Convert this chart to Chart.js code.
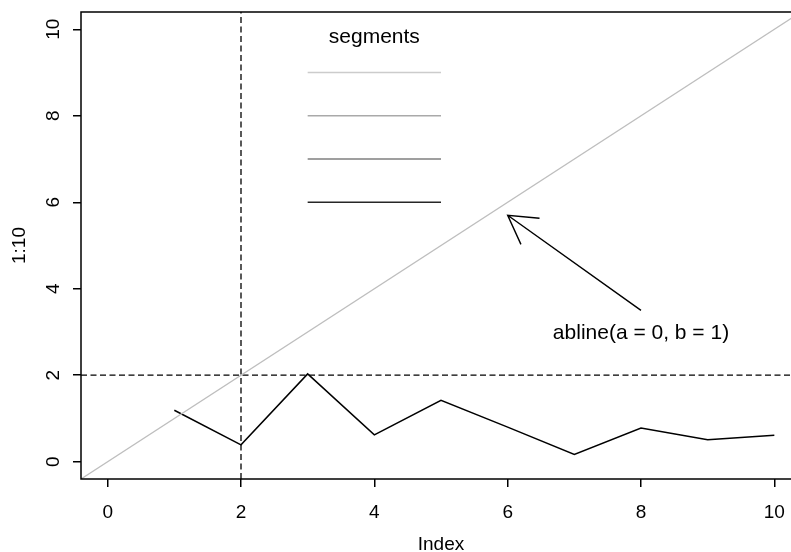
<!DOCTYPE html>
<html>
<head>
<meta charset="utf-8">
<script src="https://cdn.jsdelivr.net/npm/chart.js@4/dist/chart.umd.min.js"></script>
<style>
  html, body { margin: 0; padding: 0; background: #ffffff; }
  #plot { display: block; }
</style>
</head>
<body>
<canvas id="plot" width="791" height="552"></canvas>
<script>
// Observed series, plotted against its index
const indexValues = [1, 2, 3, 4, 5, 6, 7, 8, 9, 10];
const seriesValues = [1.19, 0.39, 2.03, 0.62, 1.42, 0.80, 0.17, 0.78, 0.51, 0.61];

// Horizontal segments from x = 3 to x = 5
const segmentStart = 3;
const segmentEnd = 5;
const segmentLevels = [9, 8, 7, 6];
const segmentColors = ['#cccccc', '#a9a9a9', '#7f7f7f', '#262626'];

// Reference line y = a + b x and the two dashed guides
const ablineA = 0;
const ablineB = 1;
const hGuide = 2;
const vGuide = 2;

// Arrow pointing at the reference line, and its label
const arrowFrom = { x: 8, y: 3.5 };
const arrowTo = { x: 6, y: 5.7 };
const ablineLabel = 'abline(a = 0, b = 1)';
const ablineLabelAt = { x: 8, y: 3 };
const segmentsLabel = 'segments';
const segmentsLabelAt = { x: 4, y: 9.85 };

// Axis ticks and titles
const xTicks = [0, 2, 4, 6, 8, 10];
const yTicks = [0, 2, 4, 6, 8, 10];
const xTitle = 'Index';
const yTitle = '1:10';

// The plot region runs from -0.4 to 10.4 on both axes; the canvas ends a little
// before the right edge of that region, so the x scale stops at the canvas edge.
const xMin = -0.4, xFull = 10.4, xMax = 10.25, yMin = -0.4, yMax = 10.4;
const AXIS_FONT = '19px "Liberation Sans", Arial, sans-serif';
const TEXT_FONT = '21px "Liberation Sans", Arial, sans-serif';
const DASH = [6, 3.5];

const datasets = [];

// y = a + b x across the whole x range
datasets.push({
  data: [
    { x: xMin, y: ablineA + ablineB * xMin },
    { x: xFull, y: ablineA + ablineB * xFull }
  ],
  borderColor: '#bebebe', borderWidth: 1.3
});

// dashed guides
datasets.push({
  data: [{ x: xMin, y: hGuide }, { x: xFull, y: hGuide }],
  borderColor: '#000000', borderWidth: 1.3, borderDash: DASH
});
datasets.push({
  data: [{ x: vGuide, y: yMin }, { x: vGuide, y: yMax }],
  borderColor: '#000000', borderWidth: 1.3, borderDash: DASH
});

// grey segments
segmentLevels.forEach((lvl, i) => {
  datasets.push({
    data: [{ x: segmentStart, y: lvl }, { x: segmentEnd, y: lvl }],
    borderColor: segmentColors[i], borderWidth: 1.5
  });
});

// the series itself
datasets.push({
  data: indexValues.map((v, i) => ({ x: v, y: seriesValues[i] })),
  borderColor: '#000000', borderWidth: 1.5
});

datasets.forEach(d => {
  d.showLine = true;
  d.pointRadius = 0;
  d.fill = false;
  d.tension = 0;
});

const annotations = {
  id: 'annotations',
  afterDatasetsDraw(chart) {
    const { ctx, chartArea: a, scales: { x, y } } = chart;
    const right = x.getPixelForValue(xFull);
    ctx.save();

    // plot frame (its right side lies beyond the canvas)
    ctx.strokeStyle = '#000000';
    ctx.lineWidth = 1.5;
    ctx.setLineDash([]);
    ctx.strokeRect(a.left, a.top, right - a.left, a.bottom - a.top);

    // arrow
    const x0 = x.getPixelForValue(arrowFrom.x), y0 = y.getPixelForValue(arrowFrom.y);
    const x1 = x.getPixelForValue(arrowTo.x), y1 = y.getPixelForValue(arrowTo.y);
    ctx.lineWidth = 1.4;
    ctx.beginPath();
    ctx.moveTo(x0, y0);
    ctx.lineTo(x1, y1);
    const ang = Math.atan2(y0 - y1, x0 - x1);
    const headLen = 32, headAng = Math.PI / 6;
    ctx.moveTo(x1 + headLen * Math.cos(ang + headAng), y1 + headLen * Math.sin(ang + headAng));
    ctx.lineTo(x1, y1);
    ctx.lineTo(x1 + headLen * Math.cos(ang - headAng), y1 + headLen * Math.sin(ang - headAng));
    ctx.stroke();

    // in-plot labels
    ctx.fillStyle = '#000000';
    ctx.textAlign = 'center';
    ctx.textBaseline = 'alphabetic';
    ctx.font = TEXT_FONT;
    const capHalf = 7.5;
    ctx.fillText(segmentsLabel, x.getPixelForValue(segmentsLabelAt.x), y.getPixelForValue(segmentsLabelAt.y) + capHalf);
    ctx.fillText(ablineLabel, x.getPixelForValue(ablineLabelAt.x), y.getPixelForValue(ablineLabelAt.y) + capHalf);

    // x tick labels and title
    ctx.font = AXIS_FONT;
    xTicks.forEach(v => ctx.fillText(String(v), x.getPixelForValue(v), a.bottom + 39));
    ctx.fillText(xTitle, (a.left + right) / 2, a.bottom + 71);

    // y tick labels (rotated) and title
    yTicks.forEach(v => {
      ctx.save();
      ctx.translate(a.left - 22, y.getPixelForValue(v));
      ctx.rotate(-Math.PI / 2);
      ctx.fillText(String(v), 0, 0);
      ctx.restore();
    });
    ctx.save();
    ctx.translate(a.left - 56, (a.top + a.bottom) / 2);
    ctx.rotate(-Math.PI / 2);
    ctx.fillText(yTitle, 0, 0);
    ctx.restore();

    ctx.restore();
  }
};

const axisGrid = {
  drawOnChartArea: false,
  drawTicks: true,
  tickLength: 8,
  color: '#000000',
  lineWidth: 1.5
};

new Chart(document.getElementById('plot'), {
  type: 'scatter',
  data: { datasets },
  options: {
    responsive: false,
    animation: false,
    devicePixelRatio: 1,
    layout: { padding: { left: 0, top: 12, right: 0, bottom: 0 } },
    plugins: { legend: { display: false }, tooltip: { enabled: false } },
    scales: {
      x: {
        type: 'linear', min: xMin, max: xMax,
        afterBuildTicks: s => { s.ticks = xTicks.map(v => ({ value: v })); },
        afterFit: s => { s.height = 73; },
        ticks: { display: false },
        grid: axisGrid,
        border: { display: false }
      },
      y: {
        type: 'linear', min: yMin, max: yMax,
        afterBuildTicks: s => { s.ticks = yTicks.map(v => ({ value: v })); },
        afterFit: s => { s.width = 81; },
        ticks: { display: false },
        grid: axisGrid,
        border: { display: false }
      }
    }
  },
  plugins: [annotations]
});
</script>
</body>
</html>
